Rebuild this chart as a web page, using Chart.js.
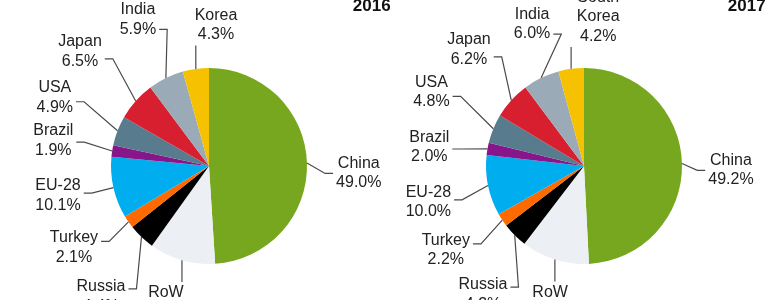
<!DOCTYPE html>
<html>
<head>
<meta charset="utf-8">
<script src="https://cdn.jsdelivr.net/npm/chart.js@4.4.1/dist/chart.umd.min.js"></script>
<style>
  html, body { margin: 0; padding: 0; background: #fff; overflow: hidden; }
  .pie { position: absolute; top: 0; width: 390px; height: 300px; }
</style>
</head>
<body>
<div class="pie" style="left:0"><canvas id="pie2016"></canvas></div>
<div class="pie" style="left:390px"><canvas id="pie2017"></canvas></div>
<script>
// shares in %, clockwise from 12 o'clock
const regions = ['China', 'RoW', 'Russia', 'Turkey', 'EU-28', 'Brazil', 'USA', 'Japan', 'India', 'South Korea'];
const share2016 = [49.0, 10.9, 4.4, 2.1, 10.1, 1.9, 4.9, 6.5, 5.9, 4.3];
const share2017 = [49.2, 11.2, 4.2, 2.2, 10.0, 2.0, 4.8, 6.2, 6.0, 4.2];
const sliceColors = ['#77a71f', '#eceff4', '#000000', '#ff6a00', '#00aeef', '#87168a', '#587b8d', '#d71f30', '#9aabb7', '#f6c100'];

// label placement: distance from centre in radii, and turn (deg) off the slice's mid angle
const reach2016 = [1.53, 1.46, 1.73, 1.61, 1.57, 1.61, 1.72, 1.76, 1.66, 1.54];
const turn2016 = [4.5, 1.5, -4, 3.6, 1.7, 0.5, 2.8, 0, 0.2, 10.4];
const reach2017 = [1.50, 1.43, 1.67, 1.65, 1.63, 1.59, 1.73, 1.67, 1.54, 1.53];
const turn2017 = [3, -3.3, -6.9, 2.2, -1.5, -3.1, 3.5, 3.2, 5.8, 13];

const LINE_H = 19.5;
const FONT = '"Liberation Sans", Arial, sans-serif';

// draws the labels outside the pie with elbow leader lines
const outsideLabels = {
  id: 'outsideLabels',
  afterDatasetsDraw(chart, args, opts) {
    const ctx = chart.ctx;
    const meta = chart.getDatasetMeta(0);
    const values = chart.data.datasets[0].data;
    ctx.save();
    ctx.font = '16px ' + FONT;
    ctx.textAlign = 'center';
    ctx.textBaseline = 'middle';
    ctx.strokeStyle = '#4a4a4a';
    ctx.lineWidth = 1.2;
    ctx.fillStyle = '#222';
    let px = 0, py = 0, pr = 0;
    meta.data.forEach((arc, i) => {
      const p = arc.getProps(['x', 'y', 'startAngle', 'endAngle', 'outerRadius'], true);
      px = p.x; py = p.y; pr = p.outerRadius;
      const mid = (p.startAngle + p.endAngle) / 2;
      const ux = Math.cos(mid), uy = Math.sin(mid);
      const la = mid + opts.turn[i] * Math.PI / 180;
      const d = opts.reach[i] * p.outerRadius;
      const cx = p.x + d * Math.cos(la), cy = p.y + d * Math.sin(la);
      const lines = chart.data.labels[i].split(' ').concat(values[i].toFixed(1) + '%');
      const w = Math.max(...lines.map(l => ctx.measureText(l).width));
      const h = lines.length * LINE_H;

      const sx = p.x + p.outerRadius * ux, sy = p.y + p.outerRadius * uy;
      ctx.beginPath();
      ctx.moveTo(sx, sy);
      if (Math.abs(ux) > 0.35) {
        const side = ux > 0 ? -1 : 1;
        const ex = cx + side * (w / 2 + 3);
        const ey = cy - uy * h * 0.28;
        ctx.lineTo(ex + side * 8, ey);
        ctx.lineTo(ex, ey);
      } else {
        ctx.lineTo(sx, cy - Math.sign(uy) * (h / 2 + 1));
      }
      ctx.stroke();
      lines.forEach((l, k) => ctx.fillText(l, cx, cy - h / 2 + LINE_H * (k + 0.5)));
    });
    // year caption
    ctx.font = 'bold 17px ' + FONT;
    ctx.fillStyle = '#111';
    ctx.fillText(opts.year, px + pr * 1.66, 6);
    ctx.restore();
  }
};

function makePie(id, year, values, reach, turn, padLeft) {
  return new Chart(document.getElementById(id), {
    type: 'pie',
    data: {
      labels: regions,
      datasets: [{ data: values, backgroundColor: sliceColors, borderWidth: 0 }]
    },
    options: {
      responsive: true,
      maintainAspectRatio: false,
      animation: false,
      layout: { padding: { left: padLeft, right: 390 - padLeft - 196, top: 68, bottom: 36 } },
      plugins: {
        legend: { display: false },
        tooltip: { enabled: false },
        outsideLabels: { year: year, reach: reach, turn: turn }
      }
    },
    plugins: [outsideLabels]
  });
}

makePie('pie2016', '2016', share2016, reach2016, turn2016, 111);
makePie('pie2017', '2017', share2017, reach2017, turn2017, 96);
</script>
</body>
</html>
